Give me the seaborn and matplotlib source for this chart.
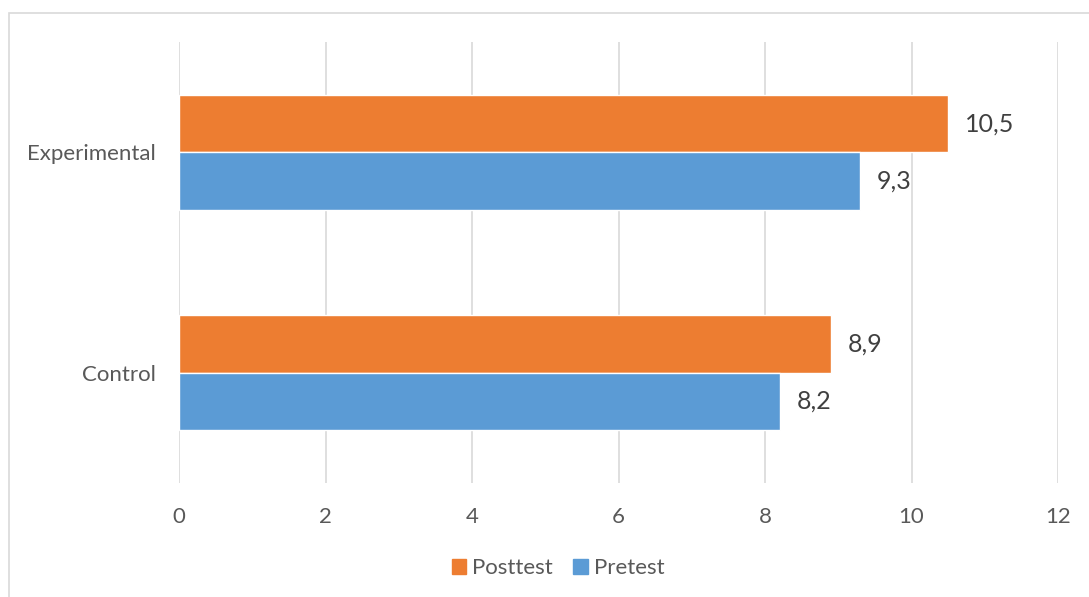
import pandas as pd
import matplotlib.pyplot as plt
import seaborn as sns
from matplotlib.patches import Rectangle

# Data
groups = ["Experimental", "Control"]
tests = ["Posttest", "Pretest"]
posttest = [10.5, 8.9]
pretest = [9.3, 8.2]
x_ticks = [0, 2, 4, 6, 8, 10, 12]

df = pd.DataFrame({
    "group": groups * 2,
    "test": ["Posttest"] * 2 + ["Pretest"] * 2,
    "score": posttest + pretest,
})

sns.set_style("white")
plt.rcParams["font.family"] = ["Lato", "DejaVu Sans"]
text_color = "#595959"
palette = {"Posttest": "#ED7D31", "Pretest": "#5B9BD5"}

fig = plt.figure(figsize=(10.89, 5.97), dpi=100)
ax = fig.add_axes([179 / 1089, 1 - 483 / 597, (1058 - 179) / 1089, (483 - 42) / 597])

sns.barplot(data=df, y="group", x="score", hue="test", order=groups,
            hue_order=tests, palette=palette, orient="h", width=0.52,
            saturation=1, ax=ax, legend=False)

# value labels with comma decimals
for container in ax.containers:
    labels = [f"{v:.1f}".replace(".", ",") for v in container.datavalues]
    ax.bar_label(container, labels=labels, padding=12, fontsize=18, color="#404040")

ax.set_xlim(0, 12)
ax.set_ylim(1.5, -0.5)
ax.set_xticks(x_ticks)
ax.set_xticklabels([str(t) for t in x_ticks])
ax.xaxis.grid(True, color="#D9D9D9", linewidth=1.2)
ax.set_axisbelow(True)
ax.set_xlabel("")
ax.set_ylabel("")
for s in ax.spines.values():
    s.set_visible(False)
ax.tick_params(axis="both", length=0, labelsize=16, colors=text_color)
ax.tick_params(axis="x", pad=17)
ax.tick_params(axis="y", pad=17)

# legend below the chart
handles = [plt.Rectangle((0, 0), 1, 1, color=palette[t]) for t in tests]
fig.legend(handles, tests, loc="center", bbox_to_anchor=(558 / 1089, 1 - 568 / 597),
           ncol=2, frameon=False, fontsize=16, handlelength=0.65, handleheight=0.65,
           handletextpad=0.28, columnspacing=0.9, labelcolor=text_color)

# chart area border
fig.patches.append(Rectangle((9 / 1089, -0.1), 1.2, 1 - 13 / 597 + 0.1,
                             transform=fig.transFigure, fill=False,
                             edgecolor="#D9D9D9", linewidth=1.2))

fig.savefig("out.png", dpi=100)
